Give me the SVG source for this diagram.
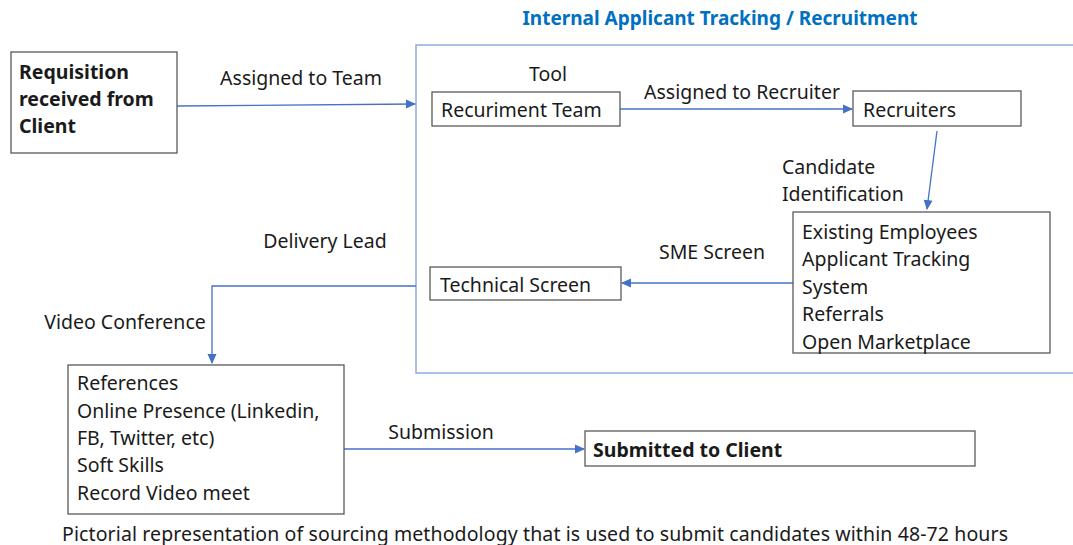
<svg xmlns="http://www.w3.org/2000/svg" width="1073" height="545" viewBox="0 0 1073 545">
<defs>
<marker id="arr" markerWidth="10" markerHeight="10" refX="9" refY="5" orient="auto" markerUnits="userSpaceOnUse">
<path d="M0,0.5 L10,5 L0,9.5 Z" fill="#4472c4"/>
</marker>
<style>
text{font-family:"Noto Sans","Open Sans",sans-serif;font-size:19.5px;fill:#1a1a1a}
.b{font-weight:bold}
.box{fill:#fff;stroke:#595959;stroke-width:1.3}
.c{fill:none;stroke:#4472c4;stroke-width:1.3}
.title{fill:#0070c0;font-weight:bold;font-size:19px}
</style>
</defs>
<rect width="1073" height="545" fill="#fff"/>
<g id="container">
<rect x="416" y="45" width="670" height="328" fill="none" stroke="#8eaadb" stroke-width="1.5"/>
<text class="title" x="720" y="25" text-anchor="middle">Internal Applicant Tracking / Recruitment</text>
<text x="548" y="81" text-anchor="middle">Tool</text>
</g>
<g id="connectors">
<line class="c" x1="177" y1="106" x2="415" y2="104" marker-end="url(#arr)"/>
<text x="301" y="85" text-anchor="middle">Assigned to Team</text>
<line class="c" x1="620" y1="109" x2="852" y2="109" marker-end="url(#arr)"/>
<text x="742" y="99" text-anchor="middle">Assigned to Recruiter</text>
<line class="c" x1="937" y1="131" x2="927" y2="209" marker-end="url(#arr)"/>
<text x="782" y="174">Candidate</text>
<text x="782" y="201">Identification</text>
<line class="c" x1="793" y1="283" x2="622" y2="283" marker-end="url(#arr)"/>
<text x="712" y="259" text-anchor="middle">SME Screen</text>
<path class="c" d="M416,286 H212 V363" marker-end="url(#arr)"/>
<text x="325" y="248" text-anchor="middle">Delivery Lead</text>
<text x="125" y="329" text-anchor="middle">Video Conference</text>
<line class="c" x1="344" y1="449" x2="584" y2="449" marker-end="url(#arr)"/>
<text x="441" y="439" text-anchor="middle">Submission</text>
</g>
<g id="requisition">
<rect class="box" x="11" y="52" width="166" height="101"/>
<text class="b" x="19" y="79">Requisition</text>
<text class="b" x="19" y="106">received from</text>
<text class="b" x="19" y="133">Client</text>
</g>
<g id="recruitment-team">
<rect class="box" x="432" y="92" width="188" height="34"/>
<text x="441" y="117">Recuriment Team</text>
</g>
<g id="recruiters">
<rect class="box" x="853" y="91" width="168" height="35"/>
<text x="863" y="117">Recruiters</text>
</g>
<g id="sources">
<rect class="box" x="793" y="212" width="257" height="141"/>
<text x="802" y="239">Existing Employees</text>
<text x="802" y="266">Applicant Tracking</text>
<text x="802" y="294">System</text>
<text x="802" y="321">Referrals</text>
<text x="802" y="349">Open Marketplace</text>
</g>
<g id="technical-screen">
<rect class="box" x="430" y="267" width="191" height="33"/>
<text x="440" y="292">Technical Screen</text>
</g>
<g id="checks">
<rect class="box" x="68" y="365" width="276" height="149"/>
<text x="77" y="390">References</text>
<text x="77" y="418">Online Presence (Linkedin,</text>
<text x="77" y="445">FB, Twitter, etc)</text>
<text x="77" y="472">Soft Skills</text>
<text x="77" y="500">Record Video meet</text>
</g>
<g id="submitted">
<rect class="box" x="585" y="431" width="390" height="35"/>
<text class="b" x="593" y="457">Submitted to Client</text>
</g>
<text x="62" y="541" textLength="946" lengthAdjust="spacing">Pictorial representation of sourcing methodology that is used to submit candidates within 48-72 hours</text>
</svg>
